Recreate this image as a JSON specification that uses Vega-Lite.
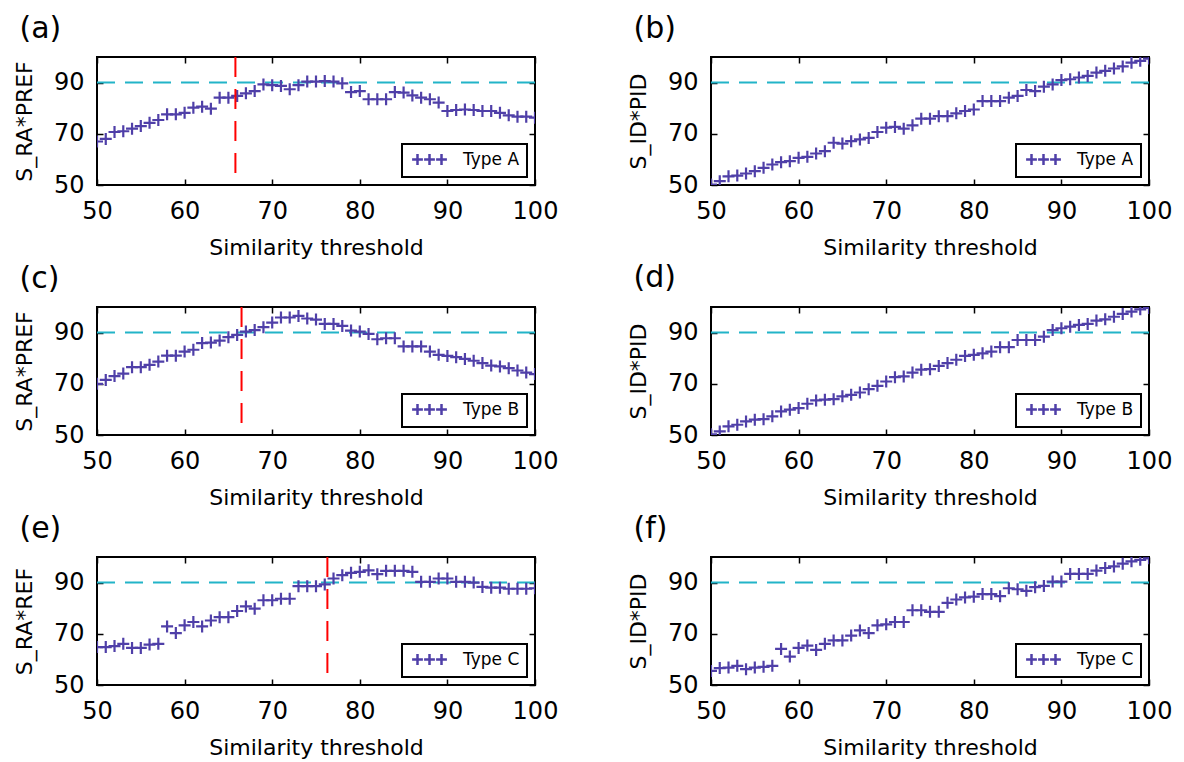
{
  "$schema": "https://vega.github.io/schema/vega-lite/v6.json",
  "background": "white",
  "padding": {"left": 12, "top": 12, "right": 5, "bottom": 5},
  "bounds": "flush",
  "columns": 2,
  "spacing": {"row": 122, "column": 176},
  "resolve": {"scale": {"color": "independent", "x": "independent", "y": "independent"}, "legend": {"color": "independent"}},
  "config": {
    "font": "DejaVu Sans",
    "view": {"stroke": "black", "strokeWidth": 2},
    "axis": {"domain": false, "grid": false, "ticks": true, "tickSize": -6, "tickWidth": 1.5, "tickColor": "black", "labelFont": "DejaVu Sans", "labelFontSize": 24, "labelColor": "black", "labelFlush": false, "titleFont": "DejaVu Sans", "titleFontSize": 22, "titleFontWeight": "normal", "titleColor": "black"},
    "axisX": {"labelPadding": 20, "titlePadding": 14},
    "axisY": {"labelPadding": 19, "titlePadding": 17},
    "title": {"anchor": "start", "frame": "bounds", "font": "DejaVu Sans", "fontSize": 30, "fontWeight": "normal", "color": "black", "offset": 12, "dx": 6},
    "legend": {"orient": "bottom-right", "offset": 8, "strokeColor": "black", "strokeWidth": 2, "padding": 7, "fillColor": "white", "labelFont": "DejaVu Sans", "labelFontSize": 17, "labelColor": "black", "labelOffset": 25, "symbolOffset": 12, "symbolType": "M-2.9,0H-1.1M-0.9,0H0.9M1.1,0H2.9M-2,-0.9V0.9M0,-0.9V0.9M2,-0.9V0.9", "symbolSize": 144, "symbolStrokeWidth": 2.5, "title": null}
  },
  "datasets": {
    "a": [
      {"x":50,"y":67,"type":"Type A"},{"x":51,"y":68,"type":"Type A"},{"x":52,"y":70.7,"type":"Type A"},{"x":53,"y":71,"type":"Type A"},{"x":54,"y":72,"type":"Type A"},{"x":55,"y":73,"type":"Type A"},{"x":56,"y":74.3,"type":"Type A"},{"x":57,"y":75.4,"type":"Type A"},{"x":58,"y":77.6,"type":"Type A"},{"x":59,"y":77.6,"type":"Type A"},{"x":60,"y":78.2,"type":"Type A"},{"x":61,"y":80.2,"type":"Type A"},{"x":62,"y":80.6,"type":"Type A"},{"x":63,"y":79.8,"type":"Type A"},{"x":64,"y":84.1,"type":"Type A"},{"x":65,"y":84.1,"type":"Type A"},{"x":66,"y":84.8,"type":"Type A"},{"x":67,"y":85.8,"type":"Type A"},{"x":68,"y":86.7,"type":"Type A"},{"x":69,"y":89.3,"type":"Type A"},{"x":70,"y":89,"type":"Type A"},{"x":71,"y":88.7,"type":"Type A"},{"x":72,"y":87.4,"type":"Type A"},{"x":73,"y":89,"type":"Type A"},{"x":74,"y":90.4,"type":"Type A"},{"x":75,"y":90.4,"type":"Type A"},{"x":76,"y":90.6,"type":"Type A"},{"x":77,"y":90.4,"type":"Type A"},{"x":78,"y":89.7,"type":"Type A"},{"x":79,"y":86.3,"type":"Type A"},{"x":80,"y":86.7,"type":"Type A"},{"x":81,"y":83.5,"type":"Type A"},{"x":82,"y":83.5,"type":"Type A"},{"x":83,"y":83.5,"type":"Type A"},{"x":84,"y":86.3,"type":"Type A"},{"x":85,"y":86.1,"type":"Type A"},{"x":86,"y":85,"type":"Type A"},{"x":87,"y":84.1,"type":"Type A"},{"x":88,"y":83.5,"type":"Type A"},{"x":89,"y":82.2,"type":"Type A"},{"x":90,"y":78.9,"type":"Type A"},{"x":91,"y":79.3,"type":"Type A"},{"x":92,"y":79.5,"type":"Type A"},{"x":93,"y":79.3,"type":"Type A"},{"x":94,"y":78.9,"type":"Type A"},{"x":95,"y":78.9,"type":"Type A"},{"x":96,"y":78.2,"type":"Type A"},{"x":97,"y":77.2,"type":"Type A"},{"x":98,"y":76.7,"type":"Type A"},{"x":99,"y":76.7,"type":"Type A"},{"x":100,"y":76.3,"type":"Type A"}
    ],
    "b": [
      {"x":50,"y":50.2,"type":"Type A"},{"x":51,"y":51.5,"type":"Type A"},{"x":52,"y":53.4,"type":"Type A"},{"x":53,"y":53.7,"type":"Type A"},{"x":54,"y":54.5,"type":"Type A"},{"x":55,"y":55.4,"type":"Type A"},{"x":56,"y":56.7,"type":"Type A"},{"x":57,"y":58,"type":"Type A"},{"x":58,"y":58.9,"type":"Type A"},{"x":59,"y":59.3,"type":"Type A"},{"x":60,"y":60.6,"type":"Type A"},{"x":61,"y":61,"type":"Type A"},{"x":62,"y":62.3,"type":"Type A"},{"x":63,"y":63.2,"type":"Type A"},{"x":64,"y":66.5,"type":"Type A"},{"x":65,"y":66.2,"type":"Type A"},{"x":66,"y":67.1,"type":"Type A"},{"x":67,"y":67.8,"type":"Type A"},{"x":68,"y":68.4,"type":"Type A"},{"x":69,"y":70.7,"type":"Type A"},{"x":70,"y":72.4,"type":"Type A"},{"x":71,"y":72.7,"type":"Type A"},{"x":72,"y":72,"type":"Type A"},{"x":73,"y":73.3,"type":"Type A"},{"x":74,"y":75.9,"type":"Type A"},{"x":75,"y":75.9,"type":"Type A"},{"x":76,"y":76.9,"type":"Type A"},{"x":77,"y":76.9,"type":"Type A"},{"x":78,"y":78,"type":"Type A"},{"x":79,"y":78.9,"type":"Type A"},{"x":80,"y":79.5,"type":"Type A"},{"x":81,"y":82.8,"type":"Type A"},{"x":82,"y":82.8,"type":"Type A"},{"x":83,"y":82.8,"type":"Type A"},{"x":84,"y":84.1,"type":"Type A"},{"x":85,"y":84.8,"type":"Type A"},{"x":86,"y":87.1,"type":"Type A"},{"x":87,"y":86.7,"type":"Type A"},{"x":88,"y":88.4,"type":"Type A"},{"x":89,"y":89.3,"type":"Type A"},{"x":90,"y":91,"type":"Type A"},{"x":91,"y":91.3,"type":"Type A"},{"x":92,"y":92,"type":"Type A"},{"x":93,"y":92.6,"type":"Type A"},{"x":94,"y":93.9,"type":"Type A"},{"x":95,"y":94.6,"type":"Type A"},{"x":96,"y":95.5,"type":"Type A"},{"x":97,"y":96.3,"type":"Type A"},{"x":98,"y":97.8,"type":"Type A"},{"x":99,"y":98.5,"type":"Type A"},{"x":100,"y":99.4,"type":"Type A"}
    ],
    "c": [
      {"x":50,"y":70,"type":"Type B"},{"x":51,"y":71.5,"type":"Type B"},{"x":52,"y":73,"type":"Type B"},{"x":53,"y":74,"type":"Type B"},{"x":54,"y":76.5,"type":"Type B"},{"x":55,"y":76.5,"type":"Type B"},{"x":56,"y":77.4,"type":"Type B"},{"x":57,"y":78.7,"type":"Type B"},{"x":58,"y":81,"type":"Type B"},{"x":59,"y":81,"type":"Type B"},{"x":60,"y":82.6,"type":"Type B"},{"x":61,"y":83.3,"type":"Type B"},{"x":62,"y":85.9,"type":"Type B"},{"x":63,"y":86.1,"type":"Type B"},{"x":64,"y":86.9,"type":"Type B"},{"x":65,"y":88.2,"type":"Type B"},{"x":66,"y":89.1,"type":"Type B"},{"x":67,"y":90.4,"type":"Type B"},{"x":68,"y":91,"type":"Type B"},{"x":69,"y":92.1,"type":"Type B"},{"x":70,"y":93.9,"type":"Type B"},{"x":71,"y":95.9,"type":"Type B"},{"x":72,"y":95.9,"type":"Type B"},{"x":73,"y":96.5,"type":"Type B"},{"x":74,"y":95.5,"type":"Type B"},{"x":75,"y":95.1,"type":"Type B"},{"x":76,"y":93.4,"type":"Type B"},{"x":77,"y":93.4,"type":"Type B"},{"x":78,"y":92.6,"type":"Type B"},{"x":79,"y":90.8,"type":"Type B"},{"x":80,"y":90.4,"type":"Type B"},{"x":81,"y":89.5,"type":"Type B"},{"x":82,"y":87.4,"type":"Type B"},{"x":83,"y":87.8,"type":"Type B"},{"x":84,"y":87.8,"type":"Type B"},{"x":85,"y":84.6,"type":"Type B"},{"x":86,"y":84.6,"type":"Type B"},{"x":87,"y":84.6,"type":"Type B"},{"x":88,"y":82.6,"type":"Type B"},{"x":89,"y":81.3,"type":"Type B"},{"x":90,"y":80.9,"type":"Type B"},{"x":91,"y":80.4,"type":"Type B"},{"x":92,"y":79.7,"type":"Type B"},{"x":93,"y":79,"type":"Type B"},{"x":94,"y":78.1,"type":"Type B"},{"x":95,"y":77.1,"type":"Type B"},{"x":96,"y":76.8,"type":"Type B"},{"x":97,"y":76.1,"type":"Type B"},{"x":98,"y":75.2,"type":"Type B"},{"x":99,"y":74.4,"type":"Type B"},{"x":100,"y":73.8,"type":"Type B"}
    ],
    "d": [
      {"x":50,"y":50.3,"type":"Type B"},{"x":51,"y":51.4,"type":"Type B"},{"x":52,"y":53.4,"type":"Type B"},{"x":53,"y":54,"type":"Type B"},{"x":54,"y":55.3,"type":"Type B"},{"x":55,"y":56,"type":"Type B"},{"x":56,"y":56.2,"type":"Type B"},{"x":57,"y":57.3,"type":"Type B"},{"x":58,"y":59.2,"type":"Type B"},{"x":59,"y":59.9,"type":"Type B"},{"x":60,"y":60.5,"type":"Type B"},{"x":61,"y":62.2,"type":"Type B"},{"x":62,"y":63.5,"type":"Type B"},{"x":63,"y":63.8,"type":"Type B"},{"x":64,"y":64,"type":"Type B"},{"x":65,"y":65.1,"type":"Type B"},{"x":66,"y":65.7,"type":"Type B"},{"x":67,"y":66.6,"type":"Type B"},{"x":68,"y":67.9,"type":"Type B"},{"x":69,"y":69.2,"type":"Type B"},{"x":70,"y":70.9,"type":"Type B"},{"x":71,"y":72.6,"type":"Type B"},{"x":72,"y":72.9,"type":"Type B"},{"x":73,"y":74.4,"type":"Type B"},{"x":74,"y":75.5,"type":"Type B"},{"x":75,"y":75.7,"type":"Type B"},{"x":76,"y":77,"type":"Type B"},{"x":77,"y":78.1,"type":"Type B"},{"x":78,"y":79.4,"type":"Type B"},{"x":79,"y":80.9,"type":"Type B"},{"x":80,"y":81.3,"type":"Type B"},{"x":81,"y":81.9,"type":"Type B"},{"x":82,"y":82.6,"type":"Type B"},{"x":83,"y":84.3,"type":"Type B"},{"x":84,"y":84.3,"type":"Type B"},{"x":85,"y":87.1,"type":"Type B"},{"x":86,"y":87.1,"type":"Type B"},{"x":87,"y":87.1,"type":"Type B"},{"x":88,"y":88.4,"type":"Type B"},{"x":89,"y":91,"type":"Type B"},{"x":90,"y":91.7,"type":"Type B"},{"x":91,"y":92.3,"type":"Type B"},{"x":92,"y":93,"type":"Type B"},{"x":93,"y":93.4,"type":"Type B"},{"x":94,"y":94.7,"type":"Type B"},{"x":95,"y":95.2,"type":"Type B"},{"x":96,"y":96.2,"type":"Type B"},{"x":97,"y":97.3,"type":"Type B"},{"x":98,"y":98.2,"type":"Type B"},{"x":99,"y":99.1,"type":"Type B"},{"x":100,"y":99.6,"type":"Type B"}
    ],
    "e": [
      {"x":50,"y":64.8,"type":"Type C"},{"x":51,"y":64.8,"type":"Type C"},{"x":52,"y":65.2,"type":"Type C"},{"x":53,"y":66.1,"type":"Type C"},{"x":54,"y":64.5,"type":"Type C"},{"x":55,"y":64.5,"type":"Type C"},{"x":56,"y":65.8,"type":"Type C"},{"x":57,"y":66.1,"type":"Type C"},{"x":58,"y":72.9,"type":"Type C"},{"x":59,"y":70.3,"type":"Type C"},{"x":60,"y":73.3,"type":"Type C"},{"x":61,"y":74.6,"type":"Type C"},{"x":62,"y":72.9,"type":"Type C"},{"x":63,"y":75.2,"type":"Type C"},{"x":64,"y":76.5,"type":"Type C"},{"x":65,"y":76.5,"type":"Type C"},{"x":66,"y":78.9,"type":"Type C"},{"x":67,"y":80.7,"type":"Type C"},{"x":68,"y":79.8,"type":"Type C"},{"x":69,"y":83.1,"type":"Type C"},{"x":70,"y":83.1,"type":"Type C"},{"x":71,"y":83.7,"type":"Type C"},{"x":72,"y":83.7,"type":"Type C"},{"x":73,"y":88.6,"type":"Type C"},{"x":74,"y":88.6,"type":"Type C"},{"x":75,"y":88.6,"type":"Type C"},{"x":76,"y":89.3,"type":"Type C"},{"x":77,"y":91.6,"type":"Type C"},{"x":78,"y":92.9,"type":"Type C"},{"x":79,"y":93.8,"type":"Type C"},{"x":80,"y":94.2,"type":"Type C"},{"x":81,"y":94.8,"type":"Type C"},{"x":82,"y":93.3,"type":"Type C"},{"x":83,"y":94.6,"type":"Type C"},{"x":84,"y":94.6,"type":"Type C"},{"x":85,"y":94.6,"type":"Type C"},{"x":86,"y":94.2,"type":"Type C"},{"x":87,"y":90.3,"type":"Type C"},{"x":88,"y":90.3,"type":"Type C"},{"x":89,"y":91.6,"type":"Type C"},{"x":90,"y":91.6,"type":"Type C"},{"x":91,"y":90.3,"type":"Type C"},{"x":92,"y":90.3,"type":"Type C"},{"x":93,"y":90,"type":"Type C"},{"x":94,"y":88.3,"type":"Type C"},{"x":95,"y":88,"type":"Type C"},{"x":96,"y":88,"type":"Type C"},{"x":97,"y":87.6,"type":"Type C"},{"x":98,"y":87.6,"type":"Type C"},{"x":99,"y":87.6,"type":"Type C"},{"x":100,"y":87.8,"type":"Type C"}
    ],
    "f": [
      {"x":50,"y":55.5,"type":"Type C"},{"x":51,"y":56.6,"type":"Type C"},{"x":52,"y":56.8,"type":"Type C"},{"x":53,"y":57.5,"type":"Type C"},{"x":54,"y":56.2,"type":"Type C"},{"x":55,"y":56.8,"type":"Type C"},{"x":56,"y":57.1,"type":"Type C"},{"x":57,"y":57.5,"type":"Type C"},{"x":58,"y":64.1,"type":"Type C"},{"x":59,"y":61.1,"type":"Type C"},{"x":60,"y":64.5,"type":"Type C"},{"x":61,"y":65.4,"type":"Type C"},{"x":62,"y":63.7,"type":"Type C"},{"x":63,"y":66.1,"type":"Type C"},{"x":64,"y":67.4,"type":"Type C"},{"x":65,"y":67.4,"type":"Type C"},{"x":66,"y":69.3,"type":"Type C"},{"x":67,"y":71.3,"type":"Type C"},{"x":68,"y":70.3,"type":"Type C"},{"x":69,"y":73.3,"type":"Type C"},{"x":70,"y":73.7,"type":"Type C"},{"x":71,"y":74.6,"type":"Type C"},{"x":72,"y":74.6,"type":"Type C"},{"x":73,"y":79.2,"type":"Type C"},{"x":74,"y":79.2,"type":"Type C"},{"x":75,"y":78.6,"type":"Type C"},{"x":76,"y":78.6,"type":"Type C"},{"x":77,"y":82.1,"type":"Type C"},{"x":78,"y":83.4,"type":"Type C"},{"x":79,"y":84.2,"type":"Type C"},{"x":80,"y":84.5,"type":"Type C"},{"x":81,"y":85.5,"type":"Type C"},{"x":82,"y":85.5,"type":"Type C"},{"x":83,"y":84.7,"type":"Type C"},{"x":84,"y":87.8,"type":"Type C"},{"x":85,"y":87.4,"type":"Type C"},{"x":86,"y":86.8,"type":"Type C"},{"x":87,"y":88.2,"type":"Type C"},{"x":88,"y":88.7,"type":"Type C"},{"x":89,"y":90.4,"type":"Type C"},{"x":90,"y":90.4,"type":"Type C"},{"x":91,"y":93.4,"type":"Type C"},{"x":92,"y":93.4,"type":"Type C"},{"x":93,"y":93.4,"type":"Type C"},{"x":94,"y":94.7,"type":"Type C"},{"x":95,"y":95.7,"type":"Type C"},{"x":96,"y":96.3,"type":"Type C"},{"x":97,"y":97.4,"type":"Type C"},{"x":98,"y":98.3,"type":"Type C"},{"x":99,"y":98.9,"type":"Type C"},{"x":100,"y":99.5,"type":"Type C"}
    ],
    "ra": [{"t": 65.8}],
    "rc": [{"t": 66.5}],
    "re": [{"t": 76.3}],
    "one": [{}]
  },
  "concat": [
    {
      "title": {"text": "(a)"}, "width": 438, "height": 128,
      "resolve": {"axis": {"x": "independent", "y": "independent"}},
      "layer": [
        {"data": {"name": "a"}, "mark": {"type": "point", "opacity": 0}, "encoding": {"x": {"field": "x", "type": "quantitative", "scale": {"domain": [50, 100]}, "axis": {"orient": "top", "labels": false, "title": null, "values": [50,60,70,80,90,100]}}, "y": {"field": "y", "type": "quantitative", "scale": {"domain": [50, 100]}, "axis": {"orient": "right", "labels": false, "title": null, "values": [50,70,90]}}}},
        {"data": {"name": "one"}, "mark": {"type": "rule", "color": "#22B4C8", "strokeWidth": 2, "strokeDash": [18, 10]}, "encoding": {"y": {"datum": 90, "type": "quantitative", "axis": null}}},
        {"data": {"name": "a"}, "mark": {"type": "point", "shape": "M-1,0H1M0,-1V1", "filled": false, "size": 144, "strokeWidth": 2.2, "opacity": 1, "clip": true}, "encoding": {"x": {"field": "x", "type": "quantitative", "axis": {"values": [50,60,70,80,90,100], "title": "Similarity threshold"}}, "y": {"field": "y", "type": "quantitative", "axis": {"values": [50,70,90], "title": "S_RA*PREF"}}, "color": {"field": "type", "type": "nominal", "scale": {"range": ["#4F3FA8"]}, "legend": {"title": null}}}},
        {"data": {"name": "ra"}, "mark": {"type": "rule", "color": "#FF0000", "strokeWidth": 2, "strokeDash": [20, 12]}, "encoding": {"x": {"field": "t", "type": "quantitative", "axis": null}}}
      ]
    },
    {
      "title": {"text": "(b)"}, "width": 438, "height": 128,
      "resolve": {"axis": {"x": "independent", "y": "independent"}},
      "layer": [
        {"data": {"name": "b"}, "mark": {"type": "point", "opacity": 0}, "encoding": {"x": {"field": "x", "type": "quantitative", "scale": {"domain": [50, 100]}, "axis": {"orient": "top", "labels": false, "title": null, "values": [50,60,70,80,90,100]}}, "y": {"field": "y", "type": "quantitative", "scale": {"domain": [50, 100]}, "axis": {"orient": "right", "labels": false, "title": null, "values": [50,70,90]}}}},
        {"data": {"name": "one"}, "mark": {"type": "rule", "color": "#22B4C8", "strokeWidth": 2, "strokeDash": [18, 10]}, "encoding": {"y": {"datum": 90, "type": "quantitative", "axis": null}}},
        {"data": {"name": "b"}, "mark": {"type": "point", "shape": "M-1,0H1M0,-1V1", "filled": false, "size": 144, "strokeWidth": 2.2, "opacity": 1, "clip": true}, "encoding": {"x": {"field": "x", "type": "quantitative", "axis": {"values": [50,60,70,80,90,100], "title": "Similarity threshold"}}, "y": {"field": "y", "type": "quantitative", "axis": {"values": [50,70,90], "title": "S_ID*PID"}}, "color": {"field": "type", "type": "nominal", "scale": {"range": ["#4F3FA8"]}, "legend": {"title": null}}}}
      ]
    },
    {
      "title": {"text": "(c)"}, "width": 438, "height": 128,
      "resolve": {"axis": {"x": "independent", "y": "independent"}},
      "layer": [
        {"data": {"name": "c"}, "mark": {"type": "point", "opacity": 0}, "encoding": {"x": {"field": "x", "type": "quantitative", "scale": {"domain": [50, 100]}, "axis": {"orient": "top", "labels": false, "title": null, "values": [50,60,70,80,90,100]}}, "y": {"field": "y", "type": "quantitative", "scale": {"domain": [50, 100]}, "axis": {"orient": "right", "labels": false, "title": null, "values": [50,70,90]}}}},
        {"data": {"name": "one"}, "mark": {"type": "rule", "color": "#22B4C8", "strokeWidth": 2, "strokeDash": [18, 10]}, "encoding": {"y": {"datum": 90, "type": "quantitative", "axis": null}}},
        {"data": {"name": "c"}, "mark": {"type": "point", "shape": "M-1,0H1M0,-1V1", "filled": false, "size": 144, "strokeWidth": 2.2, "opacity": 1, "clip": true}, "encoding": {"x": {"field": "x", "type": "quantitative", "axis": {"values": [50,60,70,80,90,100], "title": "Similarity threshold"}}, "y": {"field": "y", "type": "quantitative", "axis": {"values": [50,70,90], "title": "S_RA*PREF"}}, "color": {"field": "type", "type": "nominal", "scale": {"range": ["#4F3FA8"]}, "legend": {"title": null}}}},
        {"data": {"name": "rc"}, "mark": {"type": "rule", "color": "#FF0000", "strokeWidth": 2, "strokeDash": [20, 12]}, "encoding": {"x": {"field": "t", "type": "quantitative", "axis": null}}}
      ]
    },
    {
      "title": {"text": "(d)"}, "width": 438, "height": 128,
      "resolve": {"axis": {"x": "independent", "y": "independent"}},
      "layer": [
        {"data": {"name": "d"}, "mark": {"type": "point", "opacity": 0}, "encoding": {"x": {"field": "x", "type": "quantitative", "scale": {"domain": [50, 100]}, "axis": {"orient": "top", "labels": false, "title": null, "values": [50,60,70,80,90,100]}}, "y": {"field": "y", "type": "quantitative", "scale": {"domain": [50, 100]}, "axis": {"orient": "right", "labels": false, "title": null, "values": [50,70,90]}}}},
        {"data": {"name": "one"}, "mark": {"type": "rule", "color": "#22B4C8", "strokeWidth": 2, "strokeDash": [18, 10]}, "encoding": {"y": {"datum": 90, "type": "quantitative", "axis": null}}},
        {"data": {"name": "d"}, "mark": {"type": "point", "shape": "M-1,0H1M0,-1V1", "filled": false, "size": 144, "strokeWidth": 2.2, "opacity": 1, "clip": true}, "encoding": {"x": {"field": "x", "type": "quantitative", "axis": {"values": [50,60,70,80,90,100], "title": "Similarity threshold"}}, "y": {"field": "y", "type": "quantitative", "axis": {"values": [50,70,90], "title": "S_ID*PID"}}, "color": {"field": "type", "type": "nominal", "scale": {"range": ["#4F3FA8"]}, "legend": {"title": null}}}}
      ]
    },
    {
      "title": {"text": "(e)"}, "width": 438, "height": 128,
      "resolve": {"axis": {"x": "independent", "y": "independent"}},
      "layer": [
        {"data": {"name": "e"}, "mark": {"type": "point", "opacity": 0}, "encoding": {"x": {"field": "x", "type": "quantitative", "scale": {"domain": [50, 100]}, "axis": {"orient": "top", "labels": false, "title": null, "values": [50,60,70,80,90,100]}}, "y": {"field": "y", "type": "quantitative", "scale": {"domain": [50, 100]}, "axis": {"orient": "right", "labels": false, "title": null, "values": [50,70,90]}}}},
        {"data": {"name": "one"}, "mark": {"type": "rule", "color": "#22B4C8", "strokeWidth": 2, "strokeDash": [18, 10]}, "encoding": {"y": {"datum": 90, "type": "quantitative", "axis": null}}},
        {"data": {"name": "e"}, "mark": {"type": "point", "shape": "M-1,0H1M0,-1V1", "filled": false, "size": 144, "strokeWidth": 2.2, "opacity": 1, "clip": true}, "encoding": {"x": {"field": "x", "type": "quantitative", "axis": {"values": [50,60,70,80,90,100], "title": "Similarity threshold"}}, "y": {"field": "y", "type": "quantitative", "axis": {"values": [50,70,90], "title": "S_RA*REF"}}, "color": {"field": "type", "type": "nominal", "scale": {"range": ["#4F3FA8"]}, "legend": {"title": null}}}},
        {"data": {"name": "re"}, "mark": {"type": "rule", "color": "#FF0000", "strokeWidth": 2, "strokeDash": [20, 12]}, "encoding": {"x": {"field": "t", "type": "quantitative", "axis": null}}}
      ]
    },
    {
      "title": {"text": "(f)"}, "width": 438, "height": 128,
      "resolve": {"axis": {"x": "independent", "y": "independent"}},
      "layer": [
        {"data": {"name": "f"}, "mark": {"type": "point", "opacity": 0}, "encoding": {"x": {"field": "x", "type": "quantitative", "scale": {"domain": [50, 100]}, "axis": {"orient": "top", "labels": false, "title": null, "values": [50,60,70,80,90,100]}}, "y": {"field": "y", "type": "quantitative", "scale": {"domain": [50, 100]}, "axis": {"orient": "right", "labels": false, "title": null, "values": [50,70,90]}}}},
        {"data": {"name": "one"}, "mark": {"type": "rule", "color": "#22B4C8", "strokeWidth": 2, "strokeDash": [18, 10]}, "encoding": {"y": {"datum": 90, "type": "quantitative", "axis": null}}},
        {"data": {"name": "f"}, "mark": {"type": "point", "shape": "M-1,0H1M0,-1V1", "filled": false, "size": 144, "strokeWidth": 2.2, "opacity": 1, "clip": true}, "encoding": {"x": {"field": "x", "type": "quantitative", "axis": {"values": [50,60,70,80,90,100], "title": "Similarity threshold"}}, "y": {"field": "y", "type": "quantitative", "axis": {"values": [50,70,90], "title": "S_ID*PID"}}, "color": {"field": "type", "type": "nominal", "scale": {"range": ["#4F3FA8"]}, "legend": {"title": null}}}}
      ]
    }
  ]
}
